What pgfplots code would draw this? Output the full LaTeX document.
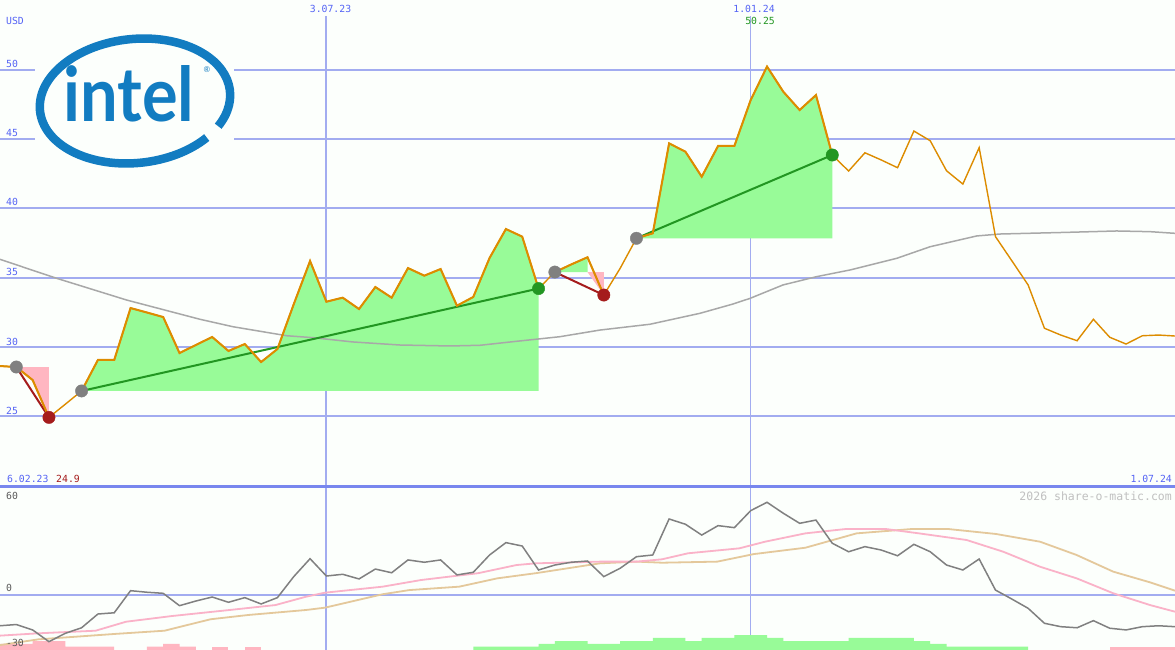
\documentclass[border=0pt]{standalone}
\usepackage{pgfplots}
\pgfplotsset{compat=1.18}
\usepackage{fontspec}
\setmonofont{DejaVu Sans Mono}
\newfontfamily\logofont{Lato}
\definecolor{bg}{RGB}{252,255,252}
\definecolor{gridc}{RGB}{162,172,240}
\definecolor{sepc}{RGB}{120,135,238}
\definecolor{lblue}{RGB}{85,100,245}
\definecolor{pricec}{RGB}{221,140,0}
\definecolor{gfill}{RGB}{152,251,152}
\definecolor{pfill}{RGB}{255,182,193}
\definecolor{tgreen}{RGB}{34,150,34}
\definecolor{tred}{RGB}{165,28,28}
\definecolor{dotgray}{RGB}{128,128,128}
\definecolor{magray}{RGB}{168,168,168}
\definecolor{oscgray}{RGB}{128,128,128}
\definecolor{sigpink}{RGB}{250,178,200}
\definecolor{sigtan}{RGB}{228,200,155}
\definecolor{intelblue}{RGB}{18,124,193}
\definecolor{lblgray}{RGB}{90,90,90}
\definecolor{wmgray}{RGB}{192,192,192}
\newcommand\lf{\fontsize{9.8}{10}\selectfont\ttfamily}
\begin{document}
\begin{tikzpicture}[x=1pt,y=1pt]
\fill[bg] (0,-163) rectangle (1175,487);
% ---------------- top panel ----------------
\begin{axis}[at={(0,0)}, anchor=south west, scale only axis, width=1175pt, height=487pt,
  xmin=0, xmax=72, ymin=19.87, ymax=55.06, hide axis, clip=true]
% grid
\addplot[gridc, line width=2pt] coordinates {(0,25) (72,25)};
\addplot[gridc, line width=2pt] coordinates {(0,30) (72,30)};
\addplot[gridc, line width=2pt] coordinates {(0,35) (72,35)};
\addplot[gridc, line width=2pt] coordinates {(0,40) (72,40)};
\addplot[gridc, line width=2pt] coordinates {(0,45) (2.14,45)};
\addplot[gridc, line width=2pt] coordinates {(14.36,45) (72,45)};
\addplot[gridc, line width=2pt] coordinates {(0,50) (2.14,50)};
\addplot[gridc, line width=2pt] coordinates {(14.36,50) (72,50)};
\addplot[gridc, line width=1.8pt] coordinates {(20,53.9) (20,19.87)};
\addplot[gridc, line width=1pt] coordinates {(46,53.9) (46,19.87)};
% fills
\addplot[fill=pfill, draw=none] coordinates {(1,28.54) (2,27.60) (3,24.90) (3,28.54)};
\addplot[fill=gfill, draw=none] coordinates {(5,26.81) (6,29.05) (7,29.05) (8,32.80) (9,32.48) (10,32.15) (11,29.55) (12,30.13) (13,30.71) (14,29.70) (15,30.20) (16,28.90) (17,29.84) (18,33.08) (19,36.20) (20,33.26) (21,33.55) (22,32.73) (23,34.32) (24,33.55) (25,35.69) (26,35.14) (27,35.62) (28,32.97) (29,33.60) (30,36.42) (31,38.51) (32,37.96) (33,34.21) (33,26.81)};
\addplot[fill=gfill, draw=none] coordinates {(34,35.40) (35,35.95) (36,36.47) (36,35.40)};
\addplot[fill=pfill, draw=none] coordinates {(36,35.40) (37,35.40) (37,33.74)};
\addplot[fill=gfill, draw=none] coordinates {(39,37.84) (40,38.20) (41,44.70) (42,44.10) (43,42.29) (44,44.51) (45,44.51) (46,47.83) (47,50.25) (48,48.43) (49,47.11) (50,48.19) (51,43.86) (51,37.84)};
% moving average
\addplot[magray, line width=1.5pt] coordinates {(0,36.32) (3.47,34.95) (7.76,33.38) (12.25,31.99) (14.28,31.45) (17.57,30.80) (19.18,30.66) (21.63,30.35) (24.51,30.13) (27.57,30.06) (29.41,30.11) (31.43,30.37) (34.31,30.73) (36.76,31.21) (39.83,31.63) (42.89,32.42) (44.91,33.09) (45.96,33.50) (47.98,34.47) (50.04,35.07) (52.08,35.55) (54.94,36.39) (56.99,37.23) (59.85,38.01) (61.27,38.15) (65.36,38.27) (68.42,38.37) (70.47,38.32) (72,38.20)};
% trend lines
\addplot[tred, line width=2pt] coordinates {(1,28.54) (3,24.90)};
\addplot[tgreen, line width=2pt] coordinates {(5,26.81) (33,34.21)};
\addplot[tred, line width=2pt] coordinates {(34,35.40) (37,33.74)};
\addplot[tgreen, line width=2pt] coordinates {(39,37.84) (51,43.86)};
% price
\addplot[pricec, line width=1.4pt] coordinates {(0,28.61) (1,28.54) (2,27.60) (3,24.90) (4,25.85) (5,26.81) (6,29.05) (7,29.05) (8,32.80) (9,32.48) (10,32.15) (11,29.55) (12,30.13) (13,30.71) (14,29.70) (15,30.20) (16,28.90) (17,29.84) (18,33.08) (19,36.20) (20,33.26) (21,33.55) (22,32.73) (23,34.32) (24,33.55) (25,35.69) (26,35.14) (27,35.62) (28,32.97) (29,33.60) (30,36.42) (31,38.51) (32,37.96) (33,34.21) (34,35.40) (35,35.95) (36,36.47) (37,33.74) (38,35.67) (39,37.84) (40,38.20) (41,44.70) (42,44.10) (43,42.29) (44,44.51) (45,44.51) (46,47.83) (47,50.25) (48,48.43) (49,47.11) (50,48.19) (51,43.86) (52,42.70) (53,44.02) (54,43.50) (55,42.94) (56,45.59) (57,44.89) (58,42.72) (59,41.76) (60,44.39) (61,37.96) (62,36.22) (63,34.47) (64,31.34) (65,30.85) (66,30.44) (67,31.99) (68,30.69) (69,30.20) (70,30.80) (71,30.85) (72,30.78)};
\addplot[pricec, line width=2pt] coordinates {(0,28.61) (1,28.54) (2,27.60) (3,24.90)};
\addplot[pricec, line width=2pt] coordinates {(5,26.81) (6,29.05) (7,29.05) (8,32.80) (9,32.48) (10,32.15) (11,29.55) (12,30.13) (13,30.71) (14,29.70) (15,30.20) (16,28.90) (17,29.84) (18,33.08) (19,36.20) (20,33.26) (21,33.55) (22,32.73) (23,34.32) (24,33.55) (25,35.69) (26,35.14) (27,35.62) (28,32.97) (29,33.60) (30,36.42) (31,38.51) (32,37.96) (33,34.21)};
\addplot[pricec, line width=2pt] coordinates {(34,35.40) (35,35.95) (36,36.47) (37,33.74)};
\addplot[pricec, line width=2pt] coordinates {(39,37.84) (40,38.20) (41,44.70) (42,44.10) (43,42.29) (44,44.51) (45,44.51) (46,47.83) (47,50.25) (48,48.43) (49,47.11) (50,48.19) (51,43.86)};
% dots
\addplot[only marks, mark=*, mark size=6.2pt, color=dotgray] coordinates {(1,28.54) (5,26.81) (34,35.40) (39,37.84)};
\addplot[only marks, mark=*, mark size=6.2pt, color=tred] coordinates {(3,24.90) (37,33.74)};
\addplot[only marks, mark=*, mark size=6.2pt, color=tgreen] coordinates {(33,34.21) (51,43.86)};
\end{axis}
% ---------------- bottom panel ----------------
\begin{axis}[at={(0,-163pt)}, anchor=south west, scale only axis, width=1175pt, height=163pt,
  xmin=0, xmax=72, ymin=-35.79, ymax=69.71, hide axis, clip=true]
\addplot[gridc, line width=2pt] coordinates {(0,0) (72,0)};
\addplot[gridc, line width=1.8pt] coordinates {(20,-35.79) (20,69.71)};
\addplot[gridc, line width=1pt] coordinates {(46,-35.79) (46,69.71)};
% bars
\addplot[fill=pfill, draw=none] coordinates {(0,-35.79) (0,-31.9) (2,-31.9) (2,-30) (4,-30) (4,-33.6) (7,-33.6) (7,-35.79)};
\addplot[fill=pfill, draw=none] coordinates {(9,-35.79) (9,-33.6) (10,-33.6) (10,-31.9) (11,-31.9) (11,-33.6) (12,-33.6) (12,-35.79)};
\addplot[fill=pfill, draw=none] coordinates {(13,-35.79) (13,-33.6) (14,-33.6) (14,-35.79)};
\addplot[fill=pfill, draw=none] coordinates {(15,-35.79) (15,-33.6) (16,-33.6) (16,-35.79)};
\addplot[fill=pfill, draw=none] coordinates {(68,-35.79) (68,-33.6) (72,-33.6) (72,-35.79)};
\addplot[fill=gfill, draw=none] coordinates {(29,-35.79) (29,-33.6) (33,-33.6) (33,-31.9) (34,-31.9) (34,-30) (36,-30) (36,-31.9) (38,-31.9) (38,-30) (40,-30) (40,-28) (42,-28) (42,-30) (43,-30) (43,-28) (45,-28) (45,-26.1) (47,-26.1) (47,-28) (48,-28) (48,-30) (52,-30) (52,-28) (56,-28) (56,-30) (57,-30) (57,-31.9) (58,-31.9) (58,-33.6) (63,-33.6) (63,-35.79)};
% signal lines
\addplot[sigtan, line width=1.8pt] coordinates {(0,-32.6) (2.35,-28.9) (7.03,-25.4) (10.08,-23.3) (12.90,-15.9) (15.24,-13.1) (18.75,-9.9) (19.91,-8.4) (23.45,0.3) (25.09,3.0) (28.14,5.2) (30.48,10.6) (32.82,13.9) (36.76,20.3) (39.01,21.4) (40.58,20.7) (43.95,21.4) (46.20,26.3) (49.35,30.4) (52.49,39.7) (55.86,42.5) (58.11,42.5) (61.03,39.3) (63.73,34.3) (65.97,25.7) (68.22,14.9) (70.47,8.0) (72,2.6)};
\addplot[sigpink, line width=1.8pt] coordinates {(0,-26.5) (2.33,-25.0) (5.86,-23.3) (7.72,-17.5) (10.54,-13.8) (14.07,-9.9) (16.88,-6.7) (18.75,-1.3) (19.91,1.3) (23.45,5.2) (25.80,9.5) (29.29,13.9) (31.65,19.2) (32.82,20.3) (36.76,21.4) (39.01,21.4) (40.56,22.9) (42.16,26.8) (45.30,30.0) (46.88,34.3) (49.35,39.7) (51.82,42.5) (54.29,42.5) (56.31,39.7) (59.23,35.4) (61.48,27.8) (63.73,18.1) (65.97,10.6) (68.22,0.9) (70.47,-6.7) (72,-11.0)};
\addplot[oscgray, line width=1.5pt] coordinates {(0,-20.1) (1,-19.3) (2,-22.8) (3,-30.4) (4,-25.0) (5,-21.4) (6,-12.5) (7,-11.7) (8,2.6) (9,1.6) (10,0.9) (11,-7.1) (12,-4.1) (13,-1.5) (14,-4.9) (15,-1.9) (16,-6.0) (17,-1.9) (18,11.7) (19,23.3) (20,12.1) (21,13.2) (22,10.2) (23,16.6) (24,14.2) (25,22.5) (26,21.0) (27,22.5) (28,12.8) (29,14.5) (30,25.7) (31,33.7) (32,31.5) (33,16.0) (34,19.2) (35,21.0) (36,21.8) (37,11.7) (38,17.1) (39,24.6) (40,25.7) (41,49.0) (42,45.6) (43,38.6) (44,44.7) (45,43.4) (46,54.4) (47,59.8) (48,52.7) (49,46.2) (50,48.3) (51,33.3) (52,27.8) (53,31.1) (54,28.9) (55,25.2) (56,32.6) (57,27.8) (58,19.2) (59,16.0) (60,23.1) (61,3.0) (62,-2.8) (63,-8.8) (64,-18.5) (65,-20.7) (66,-21.4) (67,-16.8) (68,-21.7) (69,-22.8) (70,-20.7) (71,-20.1) (72,-20.7)};
\end{axis}
% separator
\draw[sepc, line width=2.2pt] (0,0.5) -- (1175,0.5);
% labels top panel
\node[lblue, font=\lf, anchor=base west, inner sep=0] at (6,462) {USD};
\node[lblue, font=\lf, anchor=base west, inner sep=0] at (6,419) {50};
\node[lblue, font=\lf, anchor=base west, inner sep=0] at (6,350) {45};
\node[lblue, font=\lf, anchor=base west, inner sep=0] at (6,281) {40};
\node[lblue, font=\lf, anchor=base west, inner sep=0] at (6,211) {35};
\node[lblue, font=\lf, anchor=base west, inner sep=0] at (6,141.5) {30};
\node[lblue, font=\lf, anchor=base west, inner sep=0] at (6,72) {25};
\node[lblue, font=\lf, anchor=base, inner sep=0] at (330.5,474) {3.07.23};
\node[lblue, font=\lf, anchor=base, inner sep=0] at (754,474) {1.01.24};
\node[tgreen, font=\lf, anchor=base east, inner sep=0] at (775,462) {50.25};
\node[lblue, font=\lf, anchor=base west, inner sep=0] at (7,4) {6.02.23};
\node[tred, font=\lf, anchor=base west, inner sep=0] at (56,4) {24.9};
\node[lblue, font=\lf, anchor=base east, inner sep=0] at (1172,4) {1.07.24};
% labels bottom panel
\node[lblgray, font=\lf, anchor=base west, inner sep=0] at (6,-13) {60};
\node[lblgray, font=\lf, anchor=base west, inner sep=0] at (6,-105) {0};
\node[lblgray, font=\lf, anchor=base west, inner sep=0] at (6,-159) {-30};
\node[wmgray, font=\fontsize{11.5}{12}\selectfont\ttfamily, anchor=base east, inner sep=0] at (1172,-14) {2026 share-o-matic.com};
% logo
\begin{scope}[shift={(135,386)}, rotate=6]
\draw[intelblue, line width=8.5pt] (-45:95.5 and 62) arc[start angle=-45, end angle=-393, x radius=95.5, y radius=62];
\end{scope}
\node[anchor=south west, inner sep=0, intelblue] at (63,365) {\resizebox{131pt}{56pt}{\logofont\bfseries intel}};
\node[intelblue, inner sep=0, font=\logofont\fontsize{8}{8}\selectfont] at (207,417) {\textregistered};
\pgfresetboundingbox
\useasboundingbox (0,-163) rectangle (1175,487);
\end{tikzpicture}
\end{document}
